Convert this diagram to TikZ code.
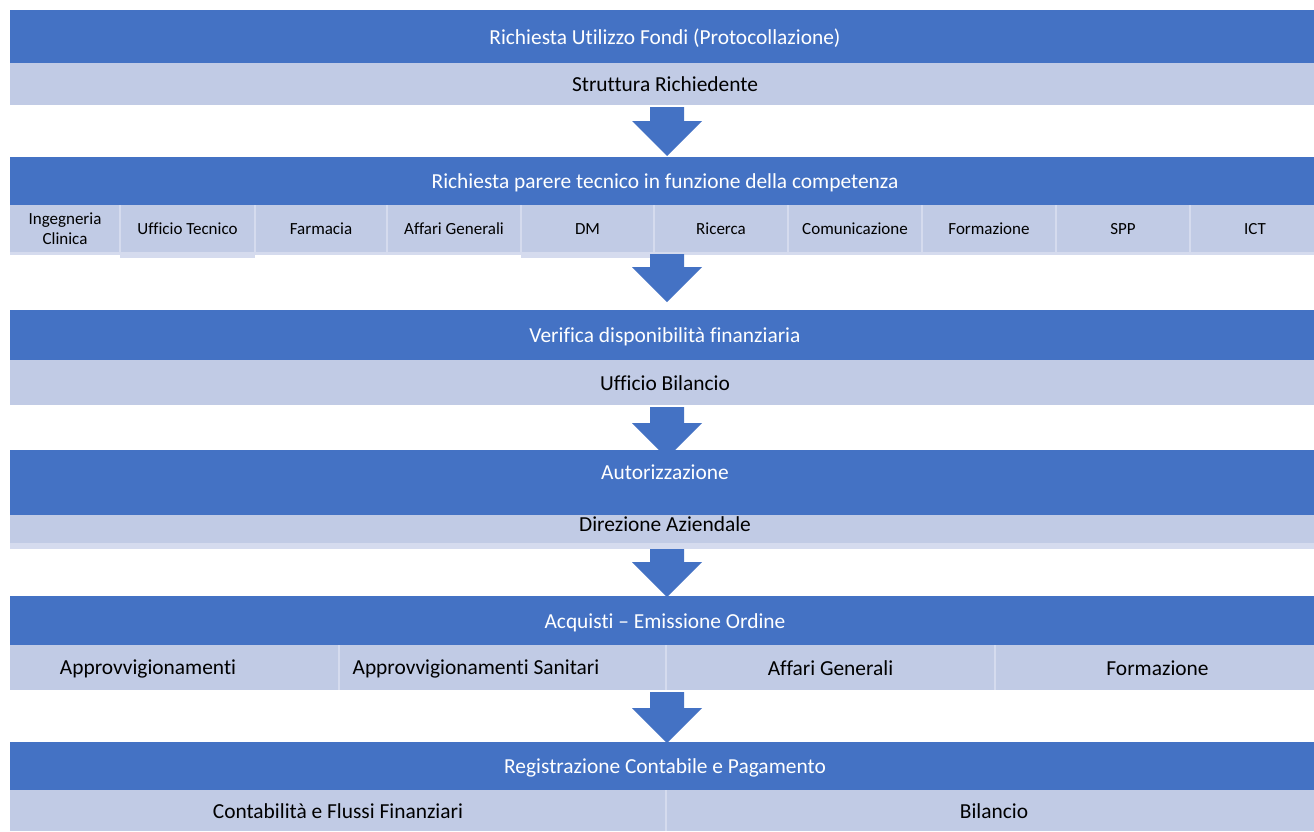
\documentclass[tikz,border=0pt]{standalone}
\usepackage{fontspec}
\setmainfont{Carlito}[Ligatures=NoCommon]
\usetikzlibrary{calc}
\definecolor{dkblue}{HTML}{4472C4}
\definecolor{ltblue}{HTML}{C1CBE5}
\definecolor{ltedge}{HTML}{D5DBEE}
\newcommand\cellbox[7]{\node[#6, minimum width={(#4)-(#2)}, minimum height={(#5)-(#3)}] (#1) at (#2,#3) {#7};}
% #1 name, #2 source node, #3 target node, #4 tip offset
\newcommand\blockarrow[4]{%
  \coordinate (#1top) at ($(#2.south -| ax)+(0,2)$);
  \coordinate (#1tip) at ($(#3.north -| ax)+(0,#4)$);
  \fill[arrowfill] ($(#1top)+(-17,0)$) -- ($(#1top)+(17,0)$) |- ($(#1tip)+(17,-35)$) -- ++(18,0) -- (#1tip) -- ++(-35,-35) -- ++(18,0) -- cycle;}
\begin{document}
\begin{tikzpicture}[x=1pt,y=-1pt,
  cell/.style={inner sep=0pt, outer sep=0pt, anchor=north west, draw=none},
  fixh/.style={text height=15pt, text depth=0pt},
  fixs/.style={text height=12pt, text depth=0pt},
  head/.style={cell, fixh, fill=dkblue, text=white, font=\fontsize{21.4}{25}\selectfont},
  sub/.style={cell, fixh, fill=ltblue, text=black, font=\fontsize{21.4}{25}\selectfont},
  smallml/.style={cell, fill=ltblue, text=black, align=center, font=\fontsize{17}{20}\selectfont},
  small/.style={smallml, fixs},
  wtxt/.style={inner sep=0pt, fixh, text=white, font=\fontsize{21.4}{25}\selectfont},
  btxt/.style={inner sep=0pt, fixh, text=black, font=\fontsize{21.4}{25}\selectfont},
  arrowfill/.style={fill=dkblue},
  sepline/.style={draw=ltedge, line width=1.5pt},
  edgefill/.style={fill=ltedge}]
\clip (0,0) rectangle (1314,831);
\fill[white] (0,0) rectangle (1314,831);
\coordinate (ax) at (667,0);

% Row 1
\cellbox{r1d}{10}{10}{1320}{63}{head}{Richiesta Utilizzo Fondi (Protocollazione)}
\cellbox{r1s}{10}{63}{1320}{105}{sub}{Struttura Richiedente}

% Row 2
\cellbox{r2d}{10}{157}{1320}{205}{head}{Richiesta parere tecnico in funzione della competenza}
\fill[edgefill] (10,251) rectangle (1320,255);
\fill[edgefill] (120,251) rectangle (255,258);
\fill[edgefill] (521,251) rectangle (654,258);
\cellbox{b1}{10}{205}{120}{252}{smallml}{Ingegneria\\Clinica}
\cellbox{b2}{120}{205}{255}{252}{small}{Ufficio Tecnico}
\cellbox{b3}{255}{205}{387}{252}{small}{Farmacia}
\cellbox{b4}{387}{205}{521}{252}{small}{Affari Generali}
\cellbox{b5}{521}{205}{654}{252}{small}{DM}
\cellbox{b6}{654}{205}{788}{252}{small}{Ricerca}
\cellbox{b7}{788}{205}{922}{252}{small}{Comunicazione}
\cellbox{b8}{922}{205}{1056}{252}{small}{Formazione}
\cellbox{b9}{1056}{205}{1190}{252}{small}{SPP}
\cellbox{b10}{1190}{205}{1320}{252}{small}{ICT}
\foreach \b in {b1,b2,b3,b4,b5,b6,b7,b8,b9}{\draw[sepline] (\b.north east) -- (\b.south east);}

% Row 3
\cellbox{r3d}{10}{310}{1320}{360}{head}{Verifica disponibilità finanziaria}
\cellbox{r3s}{10}{360}{1320}{405}{sub}{Ufficio Bilancio}

% Row 4
\cellbox{r4d}{10}{450}{1320}{515}{head}{}
\cellbox{r4s}{10}{515}{1320}{543}{sub}{}
\node[wtxt] (t4d) at (665,472) {Autorizzazione};
\node[btxt] (t4s) at (665,524) {Direzione Aziendale};

% Row 5
\cellbox{r5d}{10}{596}{1320}{645}{head}{Acquisti – Emissione Ordine}
\cellbox{c5a}{10}{645}{339}{690}{sub}{}
\cellbox{c5b}{339}{645}{666}{690}{sub}{}
\cellbox{c5c}{666}{645}{995}{690}{sub}{Affari Generali}
\cellbox{c5d}{995}{645}{1320}{690}{sub}{Formazione}
\node[btxt] (t5a) at (148,667) {Approvvigionamenti};
\node[btxt] (t5b) at (476,667) {Approvvigionamenti Sanitari};
\foreach \c in {c5a,c5b,c5c}{\draw[sepline] (\c.north east) -- (\c.south east);}

% Row 6
\cellbox{r6d}{10}{742}{1320}{790}{head}{Registrazione Contabile e Pagamento}
\cellbox{c6a}{10}{790}{666}{831}{sub}{Contabilità e Flussi Finanziari}
\cellbox{c6b}{666}{790}{1320}{831}{sub}{}
\node[btxt] (t6b) at (994,811) {Bilancio};
\draw[sepline] (c6a.north east) -- (c6a.south east);

% Arrows
\blockarrow{a1}{r1s}{r2d}{-1}
\blockarrow{a2}{b5}{r3d}{-8}
\blockarrow{a3}{r3s}{r4d}{8}
\blockarrow{a4}{r4s}{r5d}{1}
\blockarrow{a5}{c5b}{r6d}{1}

% lighter strip under Direzione Aziendale
\fill[edgefill] (10,543) rectangle (1320,549);
\end{tikzpicture}
\end{document}
